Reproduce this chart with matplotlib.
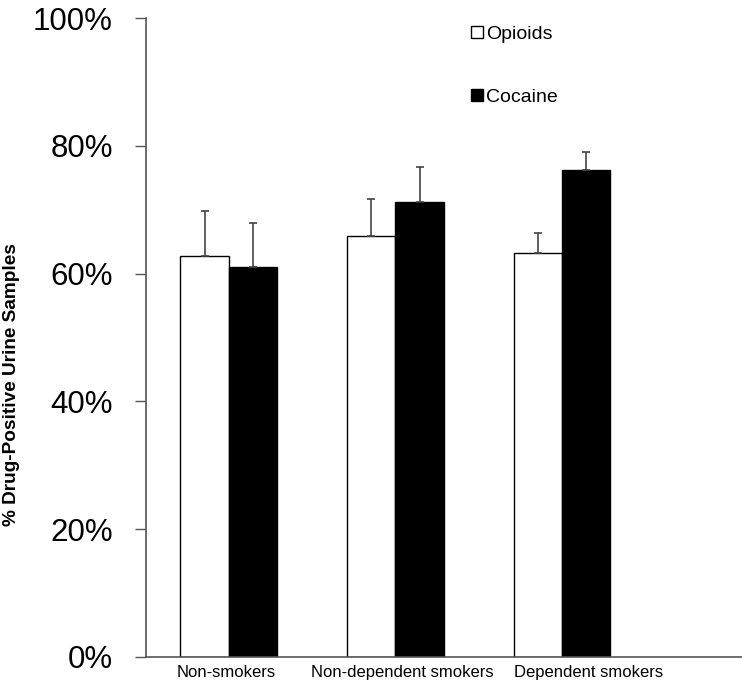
import numpy as np
import matplotlib.pyplot as plt
from matplotlib.transforms import ScaledTranslation

# Values (percent of drug-positive urine samples).
groups = ["Non-smokers", "Non-dependent smokers", "Dependent smokers"]
opioids = [62.8, 65.9, 63.3]
opioids_err = [7.0, 5.8, 3.1]
cocaine = [61.1, 71.2, 76.2]
cocaine_err = [6.8, 5.5, 2.9]

plt.rcParams['font.family'] = ['Liberation Sans', 'DejaVu Sans']

fig = plt.figure(figsize=(7.42, 6.89), dpi=100)
ax = fig.add_axes([146 / 742, 32 / 689, 1 - 146 / 742, (657 - 18) / 689])

x = np.arange(len(groups))
w = 0.29
err_style = dict(ecolor='#444444', elinewidth=1.2, capsize=3, capthick=1.2)

ax.bar(x - w / 2, opioids, w, color='white', edgecolor='black', linewidth=1,
       yerr=[np.zeros(3), opioids_err], error_kw=err_style, label='Opioids')
ax.bar(x + w / 2, cocaine, w, color='black', edgecolor='black', linewidth=1,
       yerr=[np.zeros(3), cocaine_err], error_kw=err_style, label='Cocaine')

ax.set_xlim(-0.496, 3.08)
ax.set_ylim(0, 100)
ax.set_yticks(range(0, 101, 20))
ax.set_yticklabels([f"{v}%" for v in range(0, 101, 20)], fontsize=22.5)
ax.set_xticks(x)
ax.set_xticklabels(groups, fontsize=12)
ax.tick_params(axis='x', length=0, pad=6)
ax.tick_params(axis='y', length=8, width=1, color='#555555', pad=16)

# the category labels sit a little right of the group centres in the original
shifts = [-2, 7, 27]
for lab, dx in zip(ax.get_xticklabels(), shifts):
    lab.set_transform(lab.get_transform() + ScaledTranslation(dx / 100, 0, fig.dpi_scale_trans))

for s in ['top', 'right']:
    ax.spines[s].set_visible(False)
for s in ['left', 'bottom']:
    ax.spines[s].set_color('#555555')
    ax.spines[s].set_linewidth(1.2)

ax.set_ylabel("% Drug-Positive Urine Samples", fontsize=13.7, fontweight='bold')
ax.yaxis.set_label_coords(-0.211, 0.427)

ax.legend(loc='upper left', bbox_to_anchor=(0.532, 1.0), frameon=False,
          fontsize=14, handlelength=0.6, handleheight=0.6, handletextpad=0.2,
          labelspacing=2.35, borderaxespad=0)

fig.savefig("out.png", dpi=100)
